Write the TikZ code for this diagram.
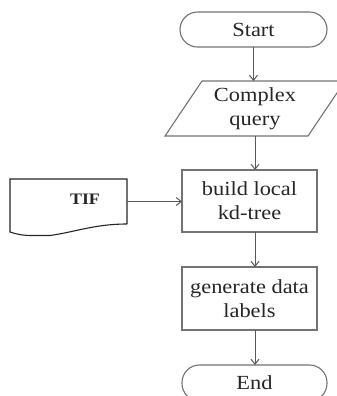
\documentclass[tikz,border=0pt]{standalone}
\usepackage{fontspec}
\setmainfont{Liberation Serif}[FakeStretch=1.12]
\usetikzlibrary{arrows.meta}
\begin{document}
\begin{tikzpicture}[x=1bp,y=-1bp,
  every node/.style={inner sep=0pt,outer sep=0pt,align=center,
    font=\fontsize{20bp}{24bp}\selectfont,text=black!85},
  frame/.style={draw=black!55,line width=1.1bp},
  termbox/.style={frame,rounded corners=17.5bp},
  procbox/.style={frame,minimum width=135bp,minimum height=62bp},
  arr/.style={draw=black!65,line width=1bp,-{Straight Barb[length=5bp,width=8bp]}}]
\useasboundingbox (0,0) rectangle (337,396);
\clip (0,0) rectangle (337,396);
\fill[white] (0,0) rectangle (337,396);

\node[termbox,minimum width=147bp,minimum height=35bp] (start) at (253.5,29.5) {Start};
\node[minimum width=143bp,minimum height=55bp] (query) at (255,108.5) {Complex\\query};
\draw[frame] ([xshift=-18.5bp]query.south west) -- ([xshift=18.5bp]query.north west)
  -- ([xshift=18.5bp]query.north east) -- ([xshift=-18.5bp]query.south east) -- cycle;
\node[procbox] (build) at (249.5,201) {build local\\kd-tree};
\node[procbox,minimum height=63bp] (gen) at (249.5,298.5) {generate data\\labels};
\node[termbox,minimum width=145bp,minimum height=36bp] (end) at (254.5,383) {End};

\node[minimum width=117bp,minimum height=45bp] (tif) at (68.5,201.5) {};
\node[font=\fontsize{16bp}{18bp}\selectfont\bfseries] (tiftext) at (85,199) {TIF};
\draw[draw=black!85,line width=1.1bp] (127,224) -- (127,179) -- (10,179) -- (10,232)
  .. controls (16,234) and (22,235.5) .. (32,235.5) -- (50,235.5)
  .. controls (75,232) and (95,224) .. (127,224);

\draw[arr] (start.south) -- (start.south |- query.north);
\draw[arr] (query.south) -- (query.south |- build.north);
\draw[arr] (query.south |- build.south) -- (query.south |- gen.north);
\draw[arr] (query.south |- gen.south) -- (query.south |- end.north);
\draw[arr] (tif.east) -- (tif.east -| build.west);
\end{tikzpicture}
\end{document}
